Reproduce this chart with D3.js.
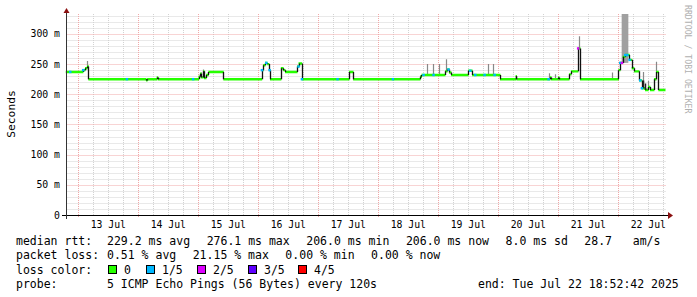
<!DOCTYPE html>
<html><head><meta charset="utf-8">
<script src="https://cdn.jsdelivr.net/npm/d3@7"></script>
<style>
body{margin:0;background:#fff}
svg{display:block}
text{font-family:"DejaVu Sans Mono",monospace;fill:#000}
</style>
</head><body><svg id="c" width="697" height="297"></svg>
<script>
// ---------- data ----------
const startTime = "2025-07-12 18:52";
const endTime = "2025-07-22 18:52";
const yTicks = [0, 50, 100, 150, 200, 250, 300];
const yTickLabels = ["0", "50 m", "100 m", "150 m", "200 m", "250 m", "300 m"];
const yMax = 333;
const dayTicks = ["2025-07-13","2025-07-14","2025-07-15","2025-07-16","2025-07-17","2025-07-18","2025-07-19","2025-07-20","2025-07-21","2025-07-22"];
const dayLabels = ["13 Jul","14 Jul","15 Jul","16 Jul","17 Jul","18 Jul","19 Jul","20 Jul","21 Jul","22 Jul"];

// median rtt (ms), step series
const medianTimes = [
 "2025-07-12 18:52","2025-07-13 01:50","2025-07-13 02:40","2025-07-13 03:30","2025-07-13 04:00",
 "2025-07-14 03:05","2025-07-14 03:30","2025-07-14 07:20","2025-07-14 07:45",
 "2025-07-15 00:05","2025-07-15 00:40","2025-07-15 01:05","2025-07-15 01:55","2025-07-15 02:15","2025-07-15 03:05","2025-07-15 04:00","2025-07-15 10:00",
 "2025-07-16 01:20","2025-07-16 01:55","2025-07-16 02:40","2025-07-16 03:30","2025-07-16 04:15","2025-07-16 04:40",
 "2025-07-16 09:00","2025-07-16 09:55","2025-07-16 10:40","2025-07-16 15:30","2025-07-16 16:05","2025-07-16 17:20",
 "2025-07-17 12:15","2025-07-17 13:55",
 "2025-07-18 16:40","2025-07-18 17:15",
 "2025-07-19 02:40","2025-07-19 03:30","2025-07-19 04:15","2025-07-19 05:05","2025-07-19 11:55","2025-07-19 13:30",
 "2025-07-20 00:40","2025-07-20 06:55","2025-07-20 07:15","2025-07-20 20:40","2025-07-20 21:05","2025-07-20 23:55",
 "2025-07-21 00:15","2025-07-21 04:15","2025-07-21 05:05","2025-07-21 07:50","2025-07-21 08:40",
 "2025-07-22 00:00","2025-07-22 00:40","2025-07-22 01:45","2025-07-22 02:40","2025-07-22 04:25","2025-07-22 05:20","2025-07-22 06:15",
 "2025-07-22 08:15","2025-07-22 09:20","2025-07-22 10:40","2025-07-22 11:55","2025-07-22 12:40","2025-07-22 14:15","2025-07-22 15:05","2025-07-22 16:00",
 "2025-07-22 18:52"];
const medianValues = [
 237,240,243,246,225,
 223,225,228,225,
 229,234,228,238,227,232,237,225,
 240,248,252,250,240,225,
 243,240,237,246,251,225,
 237,225,
 229,232,
 238,241,236,232,239,232,
 225,230,225,228,225,228,
 225,233,238,276,225,
 240,252,262,265,257,243,238,
 223,210,207,212,207,225,237,207,
 207];

// smoke (ping spread above median): time and highest rtt
const smokeTimes = ["2025-07-13 03:30","2025-07-15 01:10","2025-07-15 02:00","2025-07-18 19:20","2025-07-18 22:00","2025-07-19 00:25","2025-07-19 03:05",
 "2025-07-19 19:50","2025-07-19 21:50","2025-07-20 20:20","2025-07-20 22:30","2025-07-21 08:10","2025-07-21 21:35",
 "2025-07-22 09:45","2025-07-22 11:50","2025-07-22 15:15"];
const smokeHigh = [255,236,241,250,250,250,258,250,250,235,233,296,236,237,222,254];
// dense (dark) smoke
const darkTimes = ["2025-07-22 09:45","2025-07-22 10:40","2025-07-22 15:10"];
const darkHigh = [223,218,237];
// wide smoke band
const bandStart = ["2025-07-22 01:20"];
const bandEnd = ["2025-07-22 04:00"];
const bandHigh = [333];

// packet loss markers on the median (lost pings out of 5)
const lossTimes = ["2025-07-12 20:40","2025-07-13 01:50","2025-07-13 19:20","2025-07-14 21:50","2025-07-16 01:20","2025-07-16 03:05","2025-07-16 04:25",
 "2025-07-16 16:00","2025-07-16 17:20","2025-07-17 07:35","2025-07-18 05:45","2025-07-18 18:00","2025-07-18 22:00","2025-07-19 04:00",
 "2025-07-19 12:40","2025-07-19 14:40","2025-07-19 18:25","2025-07-19 22:25","2025-07-20 20:00","2025-07-21 07:50",
 "2025-07-22 00:40","2025-07-22 01:20","2025-07-22 02:40","2025-07-22 03:30","2025-07-22 04:25","2025-07-22 08:40","2025-07-22 09:20"];
const lossCounts = [1,1,1,1,1,1,1,1,1,1,1,1,1,1,1,1,1,1,1,2,1,2,1,1,1,1,1];

const lossLabels = ["0","1/5","2/5","3/5","4/5"];
const lossColors = ["#26ff00","#00b8ff","#dd00ff","#5e00ff","#ff0000"];

const legendRtt = ["median rtt:", "229.2 ms avg", "276.1 ms max", "206.0 ms min", "206.0 ms now", "8.0 ms sd", "28.7   am/s"];
const legendLoss = ["packet loss:", "0.51 % avg", "21.15 % max", "0.00 % min", "0.00 % now"];
const legendProbe = ["probe:", "5 ICMP Echo Pings (56 Bytes) every 120s"];
const legendEnd = "end: Tue Jul 22 18:52:42 2025";

// ---------- drawing ----------
const parse = d3.timeParse("%Y-%m-%d %H:%M");
const parseDay = d3.timeParse("%Y-%m-%d");
const svg = d3.select("#c");
const X0 = 65.5, X1 = 665.5, Y0 = 215, YT = 14;
const x = d3.scaleTime().domain([parse(startTime), parse(endTime)]).range([X0, X1]);
const y = d3.scaleLinear().domain([0, yMax]).range([Y0, YT]);
const crisp = v => Math.round(v) + 0.5;

const mT = medianTimes.map(parse);
const bis = d3.bisector(d => d).right;
const medAt = t => medianValues[Math.max(0, bis(mT, t) - 1)];

// grid
const g = svg.append("g");
const minorC = "#d2d2d2", majorC = "#f0a8a8";
const minorV = d3.timeHour.every(6).range(parse(startTime), parse(endTime)).filter(d => d.getHours() !== 0);
g.selectAll(".mv").data(minorV).join("line")
  .attr("x1", d => crisp(x(d))).attr("x2", d => crisp(x(d)))
  .attr("y1", YT).attr("y2", Y0)
  .attr("stroke", minorC).attr("stroke-dasharray", "1,1");
const minorH = d3.range(10, yMax, 10).filter(v => v % 50 !== 0);
g.selectAll(".mh").data(minorH).join("line")
  .attr("x1", X0 + 1).attr("x2", X1)
  .attr("y1", d => crisp(y(d))).attr("y2", d => crisp(y(d)))
  .attr("stroke", minorC).attr("stroke-dasharray", "1,1");
const days = dayTicks.map(parseDay);
g.selectAll(".Mv").data(days).join("line")
  .attr("x1", d => crisp(x(d))).attr("x2", d => crisp(x(d)))
  .attr("y1", YT).attr("y2", Y0 + 3)
  .attr("stroke", majorC).attr("stroke-dasharray", "1,1");
g.selectAll(".Mh").data(yTicks.filter(v => v > 0)).join("line")
  .attr("x1", X0 + 1).attr("x2", X1)
  .attr("y1", d => crisp(y(d))).attr("y2", d => crisp(y(d)))
  .attr("stroke", majorC).attr("stroke-dasharray", "1,1");

// clip
svg.append("clipPath").attr("id", "pc").append("rect")
  .attr("x", X0).attr("y", YT).attr("width", X1 - X0).attr("height", Y0 - YT);
const p = svg.append("g").attr("clip-path", "url(#pc)");

// smoke band
p.selectAll(".band").data(bandStart).join("rect")
  .attr("x", (d, i) => x(parse(d)))
  .attr("width", (d, i) => x(parse(bandEnd[i])) - x(parse(d)))
  .attr("y", (d, i) => y(bandHigh[i]))
  .attr("height", (d, i) => y(medAt(parse(d))) - y(bandHigh[i]))
  .attr("fill", "#a0a0a0");
// smoke spikes
p.selectAll(".sm").data(smokeTimes).join("line")
  .attr("x1", d => crisp(x(parse(d)))).attr("x2", d => crisp(x(parse(d))))
  .attr("y1", d => y(medAt(parse(d)))).attr("y2", (d, i) => y(smokeHigh[i]))
  .attr("stroke", "#888").attr("stroke-width", 1.2);

// median horizontal segments
const segs = d3.range(medianValues.length - 1);
p.selectAll(".mh2").data(segs).join("line")
  .attr("x1", i => x(mT[i])).attr("x2", i => x(mT[i + 1]) + 0.5)
  .attr("y1", i => y(medianValues[i])).attr("y2", i => y(medianValues[i]))
  .attr("stroke", lossColors[0]).attr("stroke-width", 2.4);
// transitions
p.selectAll(".tr").data(d3.range(1, medianValues.length - 1)).join("line")
  .attr("x1", i => crisp(x(mT[i]))).attr("x2", i => crisp(x(mT[i])))
  .attr("y1", i => y(medianValues[i - 1])).attr("y2", i => y(medianValues[i]))
  .attr("stroke", "#111").attr("stroke-width", 1.3);
// dark smoke
p.selectAll(".dk").data(darkTimes).join("line")
  .attr("x1", d => crisp(x(parse(d)))).attr("x2", d => crisp(x(parse(d))))
  .attr("y1", d => y(medAt(parse(d)))).attr("y2", (d, i) => y(darkHigh[i]))
  .attr("stroke", "#222").attr("stroke-width", 1.5);
// loss markers
p.selectAll(".ls").data(lossTimes).join("rect")
  .attr("x", d => x(parse(d)) - 1).attr("width", 2.5)
  .attr("y", d => y(medAt(parse(d))) - 1.2).attr("height", 2.4)
  .attr("fill", (d, i) => lossColors[lossCounts[i]]);

// axes
svg.append("line").attr("x1", 62).attr("x2", 669).attr("y1", Y0 + 0.5).attr("y2", Y0 + 0.5).attr("stroke", "#000");
svg.append("line").attr("x1", 66.5).attr("x2", 66.5).attr("y1", 219).attr("y2", 11).attr("stroke", "#333");
svg.append("path").attr("d", "M668,212 L673,215.5 L668,219 Z").attr("fill", "#8b1010");
svg.append("path").attr("d", "M63.5,13 L66.5,8 L69.5,13 Z").attr("fill", "#8b1010");

// tick labels
svg.selectAll(".yl").data(yTicks).join("text")
  .attr("x", 60).attr("y", d => y(d) + 3.5)
  .attr("text-anchor", "end").attr("font-size", "9.8px")
  .text((d, i) => yTickLabels[i]);
svg.selectAll(".xl").data(days).join("text")
  .attr("x", d => x(d3.timeHour.offset(d, 12)))
  .attr("y", 228).attr("text-anchor", "middle").attr("font-size", "9.8px")
  .text((d, i) => dayLabels[i]);

svg.append("text").attr("transform", "translate(14.5,114) rotate(-90)")
  .attr("text-anchor", "middle").attr("font-size", "11.3px").text("Seconds");
svg.append("text").attr("transform", "translate(684.5,5) rotate(90)")
  .attr("font-size", "8.2px").style("fill", "#b0b0b0").text("RRDTOOL / TOBI OETIKER");

// legend
const lf = "11.5px";
const lt = (s, xx, yy) => svg.append("text").attr("x", xx).attr("y", yy)
  .attr("font-size", lf).attr("xml:space", "preserve").style("white-space", "pre").text(s);
const cw = 6.97, gap = 16, col2 = 107;
// line items placed rrdtool-style: first item, then items separated by a fixed gap
function legendLine(items, yy) {
  lt(items[0], 16, yy);
  let xx = col2;
  items.slice(1).forEach(s => { lt(s, xx, yy); xx += s.length * cw + gap; });
}
legendLine(legendRtt, 244.5);
legendLine(legendLoss, 259);
lt("loss color:", 16, 273.5);
legendLine(legendProbe, 288);
lt(legendEnd, 478, 288);
const boxX = [108, 146, 197, 248, 298];
lossLabels.forEach((l, i) => {
  svg.append("rect").attr("x", boxX[i] + 0.5).attr("y", 265.5).attr("width", 8).attr("height", 8)
    .attr("fill", lossColors[i]).attr("stroke", "#000");
  lt(l, boxX[i] + 16, 273.5);
});
</script>
</body></html>
